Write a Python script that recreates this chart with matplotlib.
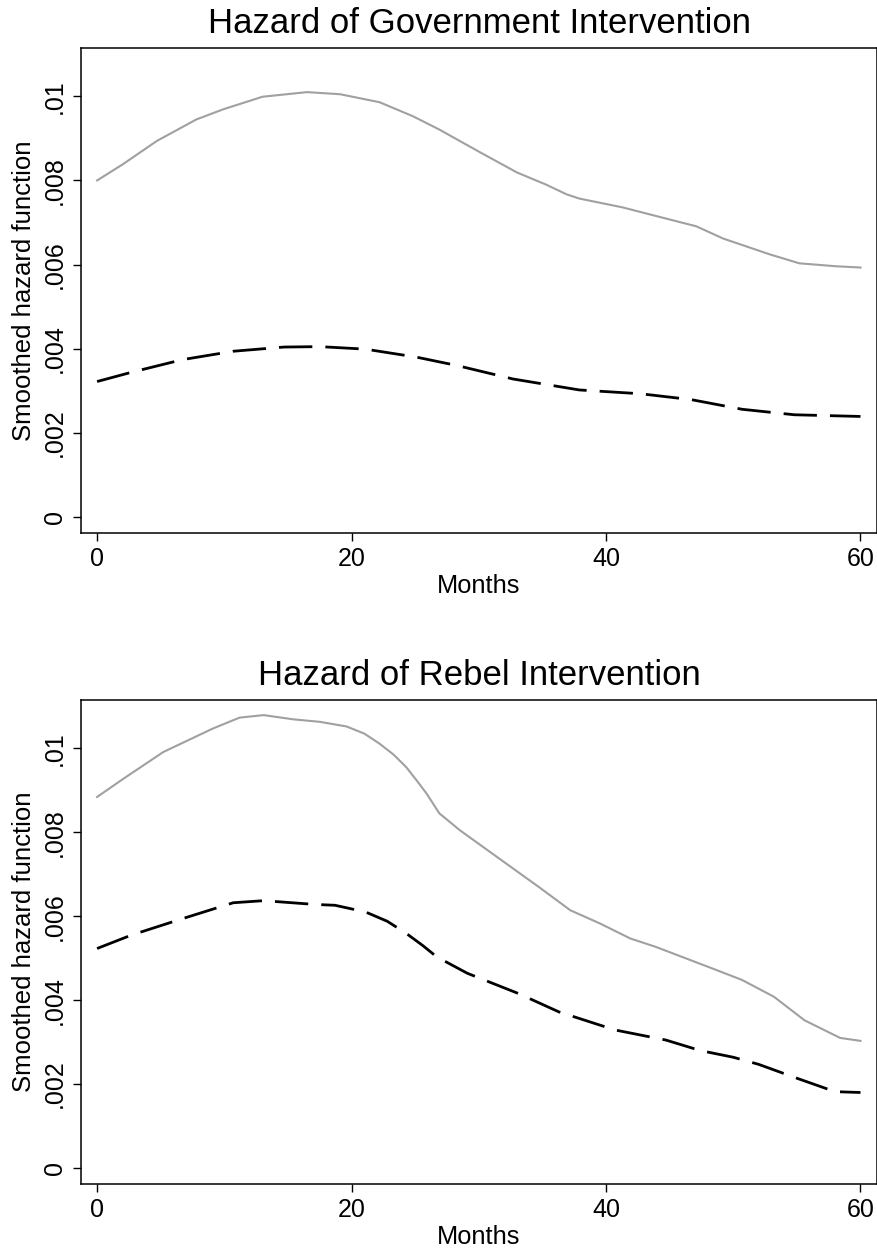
import numpy as np
import matplotlib
matplotlib.use("Agg")
from matplotlib import pyplot as plt

plt.rcParams['font.family'] = ['Liberation Sans', 'DejaVu Sans']

# Government intervention (solid grey / dashed black)
gov_grey_m = [0, 2.0, 4.7, 7.8, 9.9, 13.0, 16.5, 19.1, 22.2, 24.8, 26.9, 30.1,
              33.0, 35.3, 36.9, 37.9, 41.3, 44.0, 47.1, 49.2, 52.9, 55.2, 58.1, 60]
gov_grey_h = [.0080, .00838, .00894, .00945, .00969, .00999, .01010, .01005, .00986,
              .00953, .00921, .00867, .00819, .0079, .00767, .00757, .00736, .00715,
              .00691, .00662, .00624, .00603, .00596, .00593]
gov_black_m = [0, 2.7, 6.7, 10.7, 14.7, 17.5, 21.1, 25.1, 28.3, 32.7, 36.3, 37.9,
               42.7, 46.7, 50.7, 54.8, 60]
gov_black_h = [.00322, .00344, .00374, .00394, .00404, .00405, .00399, .0038, .0036,
               .00328, .0031, .00302, .00293, .00279, .00256, .00243, .00239]

# Rebel intervention
reb_grey_m = [0, 2.1, 5.2, 9.1, 11.2, 13.1, 15.4, 17.5, 19.6, 21.0, 22.2, 23.3, 24.3,
              25.1, 25.9, 26.9, 28.5, 30.7, 34.7, 37.2, 39.5, 41.9, 43.9, 48.4, 50.7,
              53.2, 55.6, 58.4, 60]
reb_grey_h = [.00884, .00928, .00991, .01047, .01073, .01079, .01069, .01063, .01052,
              .01035, .01011, .00985, .00955, .00924, .00892, .00845, .00805, .00757,
              .0067, .00614, .00583, .00547, .00527, .00475, .00448, .00408, .00352,
              .0031, .00303]
reb_black_m = [0, 2.7, 6.7, 10.7, 13.1, 17.1, 18.7, 21.1, 22.8, 24.3, 25.6, 26.7,
               29.1, 33.1, 36.3, 40.7, 44.7, 47.4, 50, 52, 55, 58, 60]
reb_black_h = [.00523, .00555, .00594, .00632, .00637, .00628, .00626, .0061, .00588,
               .00559, .00530, .00503, .00464, .00416, .00372, .00329, .00305, .0028,
               .00264, .00247, .00214, .00182, .00180]

titles = ["Hazard of Government Intervention", "Hazard of Rebel Intervention"]
yticks = [0, .002, .004, .006, .008, .01]
ytick_labels = ["0", ".002", ".004", ".006", ".008", ".01"]
xticks = [0, 20, 40, 60]

fig = plt.figure(figsize=(8.78, 12.52), dpi=100)
ax1 = fig.add_axes([0.0923, 0.5743, 0.9066, 0.3874])
ax2 = fig.add_axes([0.0923, 0.0543, 0.9066, 0.3866])

panels = [
    (ax1, gov_grey_m, gov_grey_h, gov_black_m, gov_black_h, titles[0]),
    (ax2, reb_grey_m, reb_grey_h, reb_black_m, reb_black_h, titles[1]),
]

for ax, gm, gh, bm, bh, title in panels:
    ax.plot(gm, gh, color='#a0a0a0', lw=1.5, solid_joinstyle='round')
    line, = ax.plot(bm, bh, color='black', lw=2.0, dash_capstyle='butt',
                    dash_joinstyle='round')
    line.set_dashes([12, 4.7])
    ax.set_xlim(-1.26, 61.3)
    ax.set_ylim(-0.00038, 0.01115)
    ax.set_xticks(xticks)
    ax.set_xticklabels([str(t) for t in xticks])
    ax.set_yticks(yticks)
    ax.set_yticklabels(ytick_labels, rotation=90, va='center')
    ax.tick_params(axis='both', direction='out', length=6, width=1.0,
                   labelsize=18, color='black', pad=4)
    for s in ax.spines.values():
        s.set_linewidth(1.1)
        s.set_color('black')
    ax.set_xlabel("Months", fontsize=18.3, labelpad=2)
    ax.set_ylabel("Smoothed hazard function", fontsize=18.5, labelpad=5)
    ax.set_title(title, fontsize=25, pad=11)

fig.savefig("out.png", dpi=100)
